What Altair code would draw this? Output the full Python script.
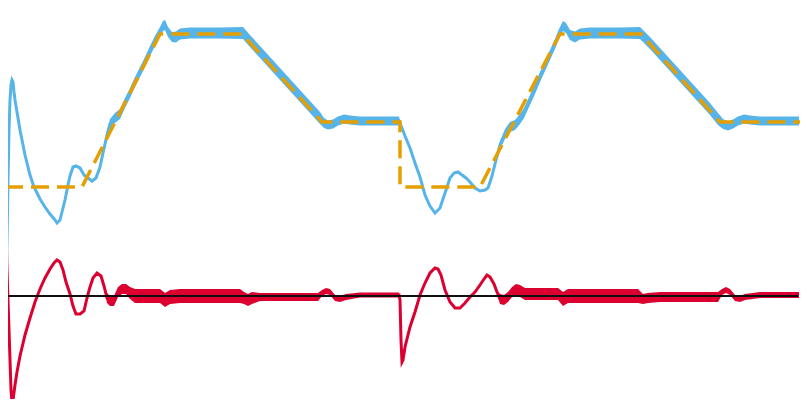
import altair as alt
import pandas as pd

# ---------------- data (time in samples, value positive up) ----------------
# Blue: measured response (centre line) and its noise half-amplitude
blue_t = [6, 7, 8, 9, 10, 11, 12, 13, 14, 15,
          17, 20, 25, 30, 34, 40, 45, 50, 55, 57,
          60, 62, 65, 68, 70, 73, 76, 80, 84, 88,
          92, 96, 100, 103, 107, 110, 115, 120, 125, 130,
          135, 140, 145, 150, 155, 160, 163, 165, 168, 172,
          176, 180, 190, 200, 220, 243, 250, 260, 270, 280,
          290, 300, 310, 320, 324, 328, 333, 338, 344, 350,
          360, 380, 399, 402, 405, 410, 415, 420, 425, 430,
          435, 440, 445, 450, 454, 458, 462, 466, 470, 475,
          480, 485, 488, 492, 496, 500, 505, 510, 515, 520,
          524, 530, 535, 540, 545, 550, 555, 559, 563, 566,
          570, 575, 580, 590, 620, 640, 650, 660, 670, 680,
          690, 700, 710, 718, 723, 728, 733, 738, 744, 750, 760, 780, 799]
blue_v = [6, 56, 116, 166, 196, 211, 216, 214, 204, 196,
          184, 166, 141, 121, 109, 97, 89, 82, 76, 73,
          76, 84, 96, 111, 120, 129, 130, 128, 121, 118,
          115, 118, 129, 143, 161, 172, 178, 182, 193, 203,
          214, 224, 234, 245, 255, 264, 270, 271, 264, 259,
          259, 262, 263, 263, 263, 263, 255, 244, 233, 222,
          211, 200, 189, 178, 173, 171, 172, 175, 177, 176,
          175, 175, 175, 168, 160, 148, 133, 119, 101, 90,
          83, 88, 103, 118, 123, 124, 121, 118, 114, 108,
          105, 106, 108, 120, 136, 151, 162, 169, 171, 177,
          183, 196, 207, 219, 230, 241, 252, 262, 270, 268,
          261, 259, 262, 263, 263, 263, 253, 242, 231, 220,
          209, 198, 187, 177, 172, 170, 172, 175, 177, 176, 175, 175, 175]
blue_noise = [0, 0, 0, 0, 0, 0, 0, 0, 0, 0,
              0, 0, 0, 0, 0, 0, 0, 0, 0, 0,
              0, 0, 0, 1, 1, 1.5, 1.5, 1.5, 1.5, 1.5,
              1.5, 1.5, 2.5, 4, 5, 5, 5, 5, 5, 5,
              5, 5, 5, 5, 5, 5, 5, 5, 5, 5,
              5.5, 5.5, 5.5, 5.5, 5.5, 6, 6, 6, 6, 6,
              6, 6, 6, 6, 5, 4.5, 4.5, 4.5, 4.5, 4.5,
              4.5, 4.5, 4.5, 0, 0, 0, 0, 0, 0, 0,
              0, 0, 1, 1, 1, 1, 1, 1, 1, 1,
              1, 1, 1, 2, 3, 4, 5, 5, 5, 5,
              5, 5, 5, 5, 5, 5, 5, 5, 5, 5,
              5, 5.5, 5.5, 5.5, 5.5, 6, 6, 6, 6, 6,
              6, 6, 6, 6, 5, 4.5, 4.5, 4.5, 4.5, 4.5, 4.5, 4.5, 4.5]

# Orange: setpoint
set_t = [5, 82, 160, 242, 322, 400, 400, 480, 560, 641, 720, 800]
set_v = [109, 109, 262, 262, 174, 174, 109, 109, 262, 262, 174, 174]

# Red: error signal and its noise half-amplitude
red_t = [5, 6, 7, 8, 9, 10, 11, 12, 13, 15,
         17, 20, 25, 30, 35, 40, 45, 50, 54, 57,
         60, 63, 66, 70, 73, 76, 80, 84, 87, 90,
         93, 97, 101, 104, 107, 110, 114, 118, 122, 126,
         130, 135, 140, 150, 160, 165, 170, 180, 200, 240,
         244, 248, 252, 260, 280, 300, 318, 322, 326, 330,
         335, 340, 346, 360, 380, 399, 400, 401, 402, 403,
         405, 410, 415, 420, 425, 430, 435, 438, 441, 445,
         450, 455, 460, 465, 470, 475, 480, 484, 487, 490,
         494, 497, 500, 504, 508, 512, 516, 520, 525, 530,
         545, 558, 563, 568, 580, 600, 638, 643, 648, 660,
         700, 718, 722, 726, 730, 735, 740, 745, 760, 780, 799]
red_v = [106, 66, 26, -4, -34, -64, -94, -107, -104, -89,
         -76, -60, -39, -22, -6, 7, 18, 27, 33, 36,
         34, 26, 14, 2, -10, -18, -18, -15, -2, 9,
         18, 23, 20, 10, -2, -5, -5, 4, 7, 7,
         3, 0, 0, 0, 0, -4, -1, 0, 0, 0,
         -2, -4, -2, -1, -1, -1, -1, 3, 5, 4,
         -2, -3, -1, 1, 1, 1, -4, -44, -66, -64,
         -51, -31, -16, 1, 13, 23, 28, 27, 21, 6,
         -6, -12, -12, -7, -1, 4, 11, 17, 21, 19,
         12, 4, -3, -4, -1, 4, 6, 5, 2, 2,
         2, 2, -3, 0, 0, 0, 0, -3, -2, -1,
         -1, -1, 4, 6, 4, -2, -3, -1, 1, 1, 1]
red_noise = [0, 0, 0, 0, 0, 0, 0, 0, 0, 0,
             0, 0, 0, 0, 0, 0, 0, 0, 0, 0,
             0, 0, 0, 0, 0, 0, 0, 0, 0, 0,
             0, 1, 1, 2, 5, 5, 5, 5, 5, 5,
             6, 7, 7, 7, 7, 7, 7, 7, 7, 7,
             6, 6, 6, 4, 4, 4, 4, 3, 3, 3,
             3, 3, 3, 2.5, 2.5, 2.5, 0, 0, 0, 0,
             0, 0, 0, 0, 0, 0, 0, 0, 0, 0,
             0, 0, 0, 0, 0, 0, 0, 0, 0, 0,
             0, 2, 5, 5, 5, 5, 6, 6, 6, 6,
             6, 6, 7, 7, 7, 7, 7, 5, 5, 5,
             5, 5, 3, 3, 3, 3, 3, 3, 3, 3, 3]

BLUE = "#56B4E9"
ORANGE = "#E69F00"
RED = "#DC0030"

# ---------------- tables ----------------
blue_df = pd.DataFrame({"t": blue_t, "v": blue_v, "n": blue_noise})
blue_df["lo"] = blue_df["v"] - blue_df["n"]
blue_df["hi"] = blue_df["v"] + blue_df["n"]
red_df = pd.DataFrame({"t": red_t, "v": red_v, "n": red_noise})
red_df["lo"] = red_df["v"] - red_df["n"]
red_df["hi"] = red_df["v"] + red_df["n"]
set_df = pd.DataFrame({"t": set_t, "v": set_v, "i": list(range(len(set_t)))})

xs = alt.Scale(domain=[8, 800], nice=False, zero=False)
ys = alt.Scale(domain=[-103, 288], nice=False, zero=False)

def X():
    return alt.X("t:Q", scale=xs, axis=None)

blue_band = alt.Chart(blue_df).mark_area(color=BLUE, opacity=1).encode(
    x=X(), y=alt.Y("lo:Q", scale=ys, axis=None), y2="hi:Q")
blue_line = alt.Chart(blue_df).mark_line(color=BLUE, strokeWidth=3).encode(
    x=X(), y=alt.Y("v:Q", scale=ys, axis=None))
set_line = alt.Chart(set_df).mark_line(color=ORANGE, strokeWidth=3.5, strokeDash=[18, 8]).encode(
    x=X(), y=alt.Y("v:Q", scale=ys, axis=None), order="i:Q")
red_band = alt.Chart(red_df).mark_area(color=RED, opacity=1).encode(
    x=X(), y=alt.Y("lo:Q", scale=ys, axis=None), y2="hi:Q")
red_line = alt.Chart(red_df).mark_line(color=RED, strokeWidth=3).encode(
    x=X(), y=alt.Y("v:Q", scale=ys, axis=None))
zero = alt.Chart(set_df).mark_rule(color="#111111", strokeWidth=1).encode(
    x=alt.value(0), x2=alt.value(790), y=alt.datum(0, scale=ys))

chart = alt.layer(blue_band, blue_line, set_line, red_band, red_line, zero).properties(
    width=792, height=391, padding=0,
    autosize=alt.AutoSizeParams(type="none"),
    background="white",
).configure_view(stroke=None)

chart.save("out.html", embed_options={"renderer": "svg", "actions": False})
